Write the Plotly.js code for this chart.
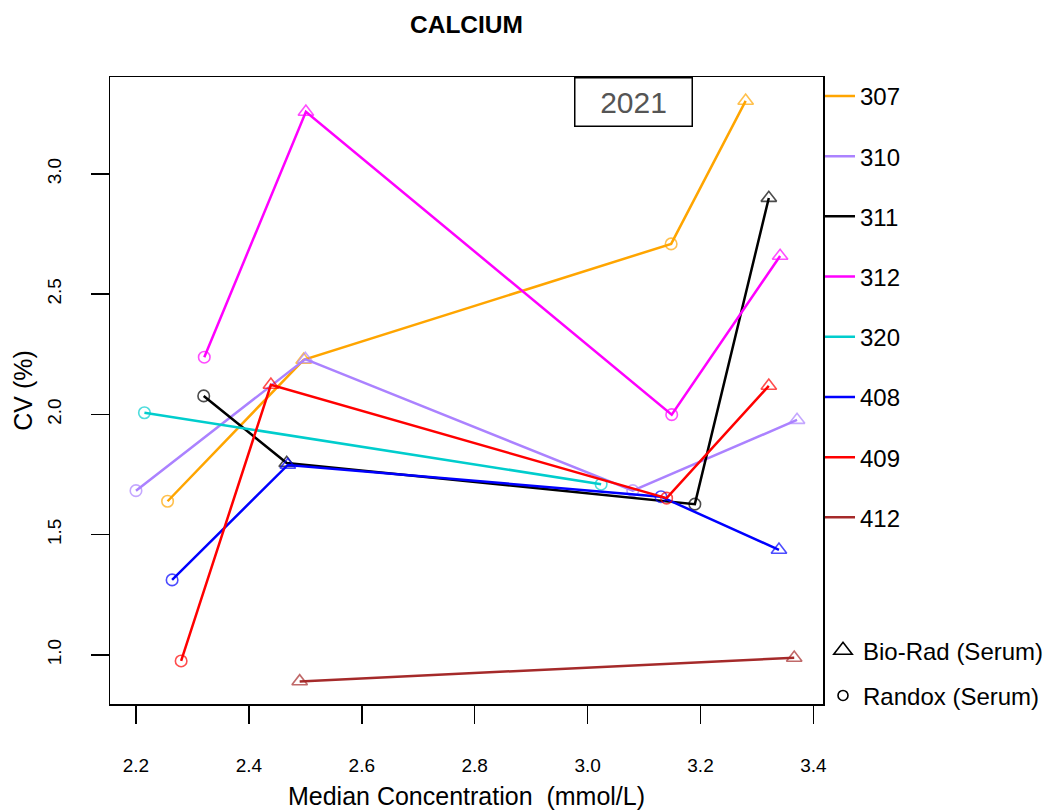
<!DOCTYPE html>
<html>
<head>
<meta charset="utf-8">
<script src="https://cdn.plot.ly/plotly-3.0.1.min.js"></script>
<style>
  html, body { margin: 0; padding: 0; background: #ffffff; }
  #chart { width: 1047px; height: 810px; }
</style>
</head>
<body>
<div id="chart"></div>
<script>
// Calcium: CV (%) against median concentration, per laboratory and control material
const labs = ["307", "310", "311", "312", "320", "408", "409", "412"];
const labColors = ["#FFA500", "#AB82FF", "#000000", "#FF00FF", "#00CDCD", "#0000FF", "#FF0000", "#A52A2A"];

// kit codes: "B" = Bio-Rad (Serum), "R" = Randox (Serum)
const conc307 = [2.256, 2.497, 3.148, 3.280];
const cv307   = [1.639, 2.227, 2.709, 3.304];
const kit307  = ["R", "B", "R", "B"];

const conc310 = [2.200, 2.500, 3.080, 3.371];
const cv310   = [1.683, 2.230, 1.683, 1.977];
const kit310  = ["R", "B", "R", "B"];

const conc311 = [2.320, 2.467, 3.190, 3.321];
const cv311   = [2.077, 1.798, 1.627, 2.900];
const kit311  = ["R", "B", "R", "B"];

const conc312 = [2.321, 2.501, 3.149, 3.341];
const cv312   = [2.238, 3.258, 1.999, 2.659];
const kit312  = ["R", "B", "R", "B"];

const conc320 = [2.215, 3.024];
const cv320   = [2.007, 1.710];
const kit320  = ["R", "R"];

const conc408 = [2.264, 2.469, 3.130, 3.339];
const cv408   = [1.312, 1.790, 1.658, 1.437];
const kit408  = ["R", "B", "R", "B"];

const conc409 = [2.280, 2.439, 3.140, 3.321];
const cv409   = [0.975, 2.123, 1.652, 2.119];
const kit409  = ["R", "B", "R", "B"];

const conc412 = [2.490, 3.366];
const cv412   = [0.890, 0.988];
const kit412  = ["B", "B"];

const xTicks = [2.2, 2.4, 2.6, 2.8, 3.0, 3.2, 3.4];
const yTicks = [1.0, 1.5, 2.0, 2.5, 3.0];
const kitNames = { B: "Bio-Rad (Serum)", R: "Randox (Serum)" };

const labData = [
  [conc307, cv307, kit307], [conc310, cv310, kit310], [conc311, cv311, kit311],
  [conc312, cv312, kit312], [conc320, cv320, kit320], [conc408, cv408, kit408],
  [conc409, cv409, kit409], [conc412, cv412, kit412]
];

const symbolFor = k => (k === "B" ? "triangle-up-open" : "circle-open");
const sizeFor = k => (k === "B" ? 13.5 : 11.5);

const traces = [];
labs.forEach((lab, i) => {
  const [cx, cy, kit] = labData[i];
  const col = labColors[i];
  traces.push({
    type: "scatter", mode: "lines", x: cx, y: cy, name: lab,
    legendgroup: lab, legend: "legend",
    line: { color: col, width: 2.5 }, hoverinfo: "skip"
  });
  traces.push({
    type: "scatter", mode: "markers", x: cx, y: cy, name: lab,
    legendgroup: lab, showlegend: false,
    marker: {
      symbol: kit.map(symbolFor), size: kit.map(sizeFor),
      color: col, line: { color: col, width: 1.6 }
    }
  });
});

// symbol key for the two control materials
["B", "R"].forEach(k => {
  traces.push({
    type: "scatter", mode: "markers", x: [null], y: [null],
    name: kitNames[k], legend: "legend2", legendgroup: "kit" + k,
    marker: { symbol: symbolFor(k), size: k === "B" ? 16 : 10,
              color: "#000000", line: { color: "#000000", width: 1.6 } }
  });
});

const baseFont = "Liberation Sans, Arial, sans-serif";
const tickFont = { family: "Liberation Sans Narrow, Liberation Sans, Arial, sans-serif", size: 19, color: "#000000" };

const layout = {
  width: 1047, height: 810,
  margin: { l: 110, r: 224, t: 77, b: 106, autoexpand: false },
  paper_bgcolor: "#ffffff", plot_bgcolor: "#ffffff",
  font: { family: baseFont, color: "#000000" },
  title: {
    text: "CALCIUM", x: 0.5, xref: "paper", y: 1 - 24 / 810, yref: "container",
    xanchor: "center", yanchor: "middle",
    font: { family: baseFont, size: 24.5, weight: "bold", color: "#000000" }
  },
  xaxis: {
    range: [2.154, 3.417], tickvals: xTicks, tickformat: ".1f",
    showgrid: false, zeroline: false,
    showline: true, mirror: true, linecolor: "#000000", linewidth: 1.5,
    ticks: "outside", ticklen: 18, tickwidth: 1.5, tickcolor: "#000000",
    ticklabelstandoff: 26, tickfont: tickFont,
    title: { text: "Median Concentration \u00a0(mmol/L)", standoff: 14,
             font: { family: baseFont, size: 25, color: "#000000" } }
  },
  yaxis: {
    range: [0.796, 3.403], tickvals: yTicks, tickformat: ".1f", tickangle: -90,
    showgrid: false, zeroline: false,
    showline: true, mirror: true, linecolor: "#000000", linewidth: 1.5,
    ticks: "outside", ticklen: 18, tickwidth: 1.5, tickcolor: "#000000",
    ticklabelstandoff: 22, tickfont: tickFont,
    title: { text: "CV (%)", standoff: 4,
             font: { family: baseFont, size: 25, color: "#000000" } }
  },
  showlegend: true,
  legend: {
    x: 0.9958, xanchor: "left", y: 1.005, yanchor: "top",
    traceorder: "grouped", tracegroupgap: 26, maxheight: 700,
    font: { family: baseFont, size: 24, color: "#000000" },
    bgcolor: "rgba(0,0,0,0)", borderwidth: 0
  },
  legend2: {
    x: 1.0, xanchor: "left", y: 0.121, yanchor: "top",
    traceorder: "grouped", tracegroupgap: 11, maxheight: 200,
    font: { family: baseFont, size: 24, color: "#000000" },
    bgcolor: "rgba(0,0,0,0)", borderwidth: 0
  },
  annotations: [{
    text: "2021", xref: "paper", yref: "paper",
    x: (633.4 - 110) / 713, y: (704 - 102) / 627,
    xanchor: "center", yanchor: "middle", showarrow: false,
    width: 114, height: 45, borderpad: 1, borderwidth: 1.5,
    bordercolor: "#000000", bgcolor: "#ffffff",
    font: { family: baseFont, size: 30, color: "#555555" }
  }]
};

Plotly.newPlot("chart", traces, layout, { displayModeBar: false, staticPlot: true });
</script>
</body>
</html>
